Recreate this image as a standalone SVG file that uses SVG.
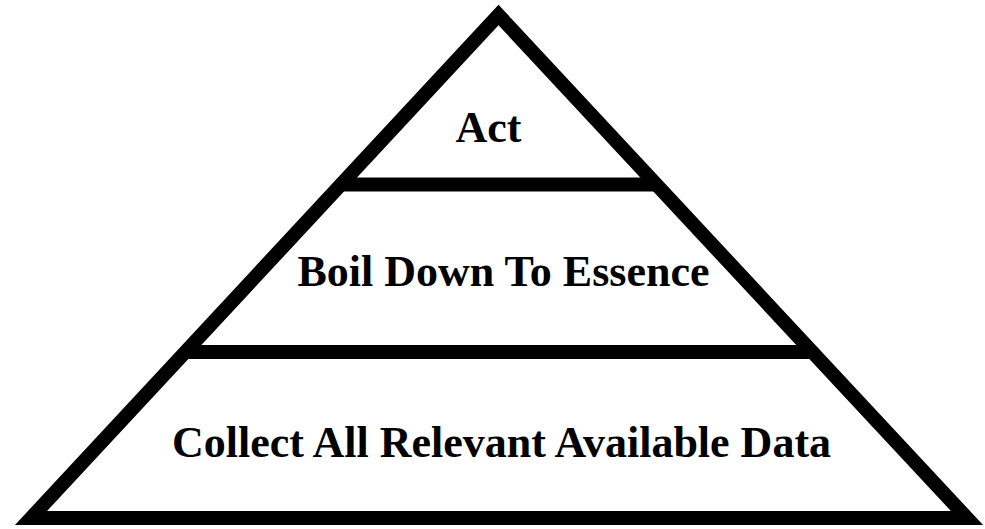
<svg xmlns="http://www.w3.org/2000/svg" width="985" height="529" viewBox="0 0 985 529">
  <style>
    .edge { fill: none; stroke: #000; stroke-width: 14; stroke-linejoin: miter; stroke-miterlimit: 10; }
    .lbl { font-family: "Liberation Serif", "Times New Roman", serif; font-weight: bold; font-size: 44px; fill: #000; text-anchor: middle; }
  </style>
  <rect width="985" height="529" fill="#fff"/>
  <g id="connectors">
    <polygon class="edge" points="31,518 498.5,15 967,518"/>
    <line class="edge" x1="338" y1="184.5" x2="659" y2="184.5"/>
    <line class="edge" x1="182" y1="352" x2="815" y2="352"/>
  </g>
  <g id="act">
    <text class="lbl" x="488.5" y="142">Act</text>
  </g>
  <g id="boil">
    <text class="lbl" x="503.5" y="286">Boil Down To Essence</text>
  </g>
  <g id="collect">
    <text class="lbl" x="501.5" y="457">Collect All Relevant Available Data</text>
  </g>
</svg>
